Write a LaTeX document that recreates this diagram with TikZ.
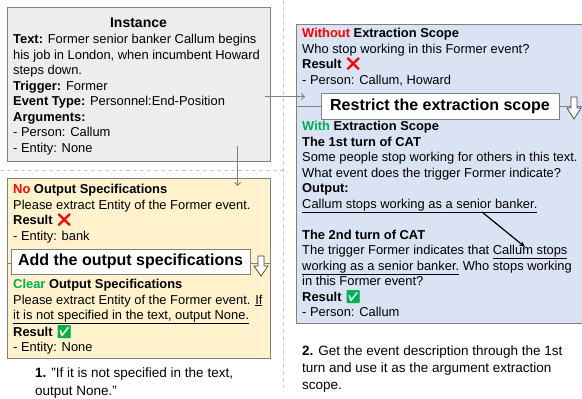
\documentclass[tikz,border=0pt]{standalone}
\usepackage{fontspec}
\setmainfont{Liberation Sans}
\newfontfamily\emojifont{Noto Emoji}
\usepackage{xcolor}
\usetikzlibrary{calc, positioning, arrows.meta}

\definecolor{instgray}{HTML}{EDEDED}
\definecolor{boxline}{HTML}{808080}
\definecolor{specyellow}{HTML}{FFF2CC}
\definecolor{scopeblue}{HTML}{DAE3F3}
\definecolor{okgreen}{HTML}{00B050}
\definecolor{sepgray}{HTML}{C8C8C8}

\newcommand{\badmark}{\textcolor{red}{\emojifont ❌}}
\newcommand{\goodmark}{\textcolor{okgreen}{\emojifont ✅}}

\begin{document}
\begin{tikzpicture}[x=1pt, y=-1pt,
    font=\fontsize{12.9}{15.5}\selectfont,
    panel/.style={draw=boxline, line width=1.1pt, inner sep=0pt, anchor=north west},
    body/.style={anchor=north west, inner sep=0pt, align=left},
    caption/.style={anchor=north west, inner sep=0pt, align=left, font=\fontsize{13.5}{17}\selectfont},
    banner/.style={draw=boxline, fill=white, line width=0.8pt, inner sep=0pt, font=\fontsize{16}{19}\selectfont\bfseries},
    link/.style={draw=boxline, line width=0.9pt, -{Straight Barb[length=3pt, width=6pt]}},
    hollow/.style={draw=black!75, fill=white, line width=0.7pt, line join=miter},
    sepline/.style={draw=sepgray, line width=0.6pt, dash pattern=on 4pt off 3pt}]

    \useasboundingbox (0,0) rectangle (582,399);

    % 1. The dashed separators between the three parts
    \draw[sepline] (283,0) -- (283,388);
    \draw[sepline] (0,170) -- (283,170);

    % 2. The three panels
    \node[panel, fill=instgray, minimum width=263pt, minimum height=154pt] (inst) at (7,7) {};
    \node[panel, fill=specyellow, minimum width=263pt, minimum height=180pt] (spec) at (7,178) {};
    \node[panel, fill=scopeblue, minimum width=290pt, minimum height=299pt] (scope) at (296,24) {};

    % 3. The instance
    \node[font=\fontsize{14}{17}\selectfont\bfseries] (instTitle) at (138.5,23) {Instance};
    \node[body] (instText) at (13,34) {%
        \textbf{Text:} Former senior banker Callum begins\\
        his job in London, when incumbent Howard\\
        steps down.\\
        \textbf{Trigger:} Former\\
        \textbf{Event Type:} Personnel:End-Position\\
        \textbf{Arguments:}\\
        - Person: Callum\\
        - Entity: None};

    % 4. Output specifications (yellow panel)
    \node[body] (noSpec) at (13,184) {%
        \textbf{\textcolor{red}{No} Output Specifications}\\
        Please extract Entity of the Former event.\\
        \textbf{Result} \badmark\\
        - Entity: bank};
    \draw[boxline, line width=0.8pt] (spec.west |- 0,263) -- (spec.east |- 0,263);
    \node[banner, minimum width=239pt, minimum height=25pt] (addSpec) at (130.5,261.5) {Add the output specifications};
    \draw[hollow] (258,256) -- ++(6,0) -- ++(0,10) -- ++(4,0) -- ++(-7,10) -- ++(-7,-10) -- ++(4,0) -- cycle;
    \node[body] (clearSpec) at (13,279) {%
        \textbf{\textcolor{okgreen}{Clear} Output Specifications}\\
        Please extract Entity of the Former event. \underline{If}\\
        \underline{it is not specified in the text, output None.}\\
        \textbf{Result} \goodmark\\
        - Entity: None};

    % 5. Extraction scope (blue panel)
    \node[body] (withoutScope) at (302,28) {%
        \textbf{\textcolor{red}{Without} Extraction Scope}\\
        Who stop working in this Former event?\\
        \textbf{Result} \badmark\\
        - Person: Callum, Howard};
    \draw[boxline, line width=0.8pt] (scope.west |- 0,106) -- (scope.east |- 0,106);
    \node[banner, minimum width=238pt, minimum height=26pt] (restrict) at (440,106) {Restrict the extraction scope};
    \draw[hollow] (571,97) -- ++(6,0) -- ++(0,11) -- ++(4,0) -- ++(-7,11) -- ++(-7,-11) -- ++(4,0) -- cycle;
    \node[body] (withScope) at (302,121) {%
        \textbf{\textcolor{okgreen}{With} Extraction Scope}\\
        \textbf{The 1st turn of CAT}\\
        Some people stop working for others in this text.\\
        What event does the trigger Former indicate?\\
        \textbf{Output:}\\
        \underline{Callum stops working as a senior banker.}\\[15.5pt]
        \textbf{The 2nd turn of CAT}\\
        The trigger Former indicates that \underline{Callum stops}\\
        \underline{working as a senior banker.} Who stops working\\
        in this Former event?\\
        \textbf{Result} \goodmark\\
        - Person: Callum};

    % 6. The event description is passed on to the second turn
    \coordinate (descOut) at (482,212);
    \coordinate (descIn) at (525,247);
    \draw[line width=1.2pt, -{Stealth[length=6pt, width=5pt]}] (descOut) -- (descIn);

    % 7. Links from the instance to both panels
    \draw[link] ($(inst.east)+(-6,12)$) -- ($(scope.west |- inst.east)+(9,12)$);
    \draw[link] ($(inst.south)+(98.5,-16)$) -- ($(spec.north)+(98.5,8)$);

    % 8. Captions
    \node[caption, font=\fontsize{13.5}{18}\selectfont] (capSpec) at (35,368) {%
        \textbf{1.} \char34 If it is not specified in the text,\\
        output None.\char34};
    \node[caption] (capScope) at (302,346) {%
        \textbf{2.} Get the event description through the 1st\\
        turn and use it as the argument extraction\\
        scope.};
\end{tikzpicture}
\end{document}
